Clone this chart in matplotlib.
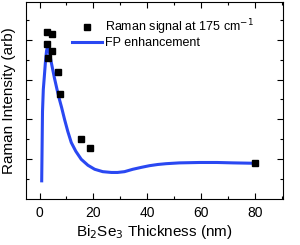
import matplotlib.pyplot as plt

plt.rcParams['font.family'] = ['Liberation Sans', 'DejaVu Sans']

# Raman data points (thickness in nm, intensity in arb units)
raman_x = [2.6, 4.8, 2.6, 4.8, 3.2, 6.7, 7.6, 15.5, 18.6, 80.0]
raman_y = [4.18, 4.15, 3.90, 3.72, 3.53, 3.20, 2.63, 1.50, 1.28, 0.90]

# Fabry-Perot enhancement curve
fp_x = [0.8, 1.1, 1.4, 1.75, 2.2, 2.6, 3.0, 3.5, 4.3, 5.5, 6.5, 7.4, 8.2, 9.3,
        10.5, 11.8, 13.5, 15.5, 18.0, 20.5, 23.5, 26.7, 29.0, 31.6, 34.7,
        38.0, 40.9, 44.0, 47.1, 52.0, 59.5, 66.0, 72.0, 80.0]
fp_y = [0.46, 2.2, 2.75, 3.05, 3.45, 3.72, 3.82, 3.74, 3.45, 3.05, 2.75, 2.50,
        2.30, 2.00, 1.70, 1.42, 1.20, 1.00, 0.85, 0.75, 0.69, 0.67, 0.67, 0.69,
        0.75, 0.80, 0.84, 0.87, 0.89, 0.91, 0.92, 0.92, 0.91, 0.90]

fig = plt.figure(figsize=(3.0, 2.45), dpi=100)
ax = fig.add_axes([0.087, 0.187, 0.856, 0.806])

ax.plot(raman_x, raman_y, 's', color='black', markersize=4,
        label='Raman signal at 175 cm$^{-1}$', zorder=3)
ax.plot(fp_x, fp_y, '-', color='#2a48f2', linewidth=2.2,
        label='FP enhancement', zorder=2)

ax.set_xlim(-5, 90.5)
ax.set_ylim(0, 4.95)
ax.set_xticks([0, 20, 40, 60, 80])
ax.set_xticks([10, 30, 50, 70, 90], minor=True)
ax.set_yticks([1, 2, 3, 4])
ax.set_yticks([0.5, 1.5, 2.5, 3.5, 4.5], minor=True)
ax.set_yticklabels([])
ax.tick_params(which='both', direction='in', top=True, right=True,
               labelsize=10, width=0.8)
ax.tick_params(which='major', length=4)
ax.tick_params(which='minor', length=2.5)
ax.tick_params(axis='x', pad=5)

ax.set_xlabel('Bi$_2$Se$_3$ Thickness (nm)', fontsize=11, labelpad=2)
ax.set_ylabel('Raman Intensity (arb)', fontsize=11, labelpad=4)

ax.legend(loc='upper left', bbox_to_anchor=(0.145, 0.965), frameon=False,
          fontsize=9, handlelength=2.4, handletextpad=0.2, labelspacing=0.0,
          borderpad=0.2)

fig.savefig('out.png', dpi=100)
